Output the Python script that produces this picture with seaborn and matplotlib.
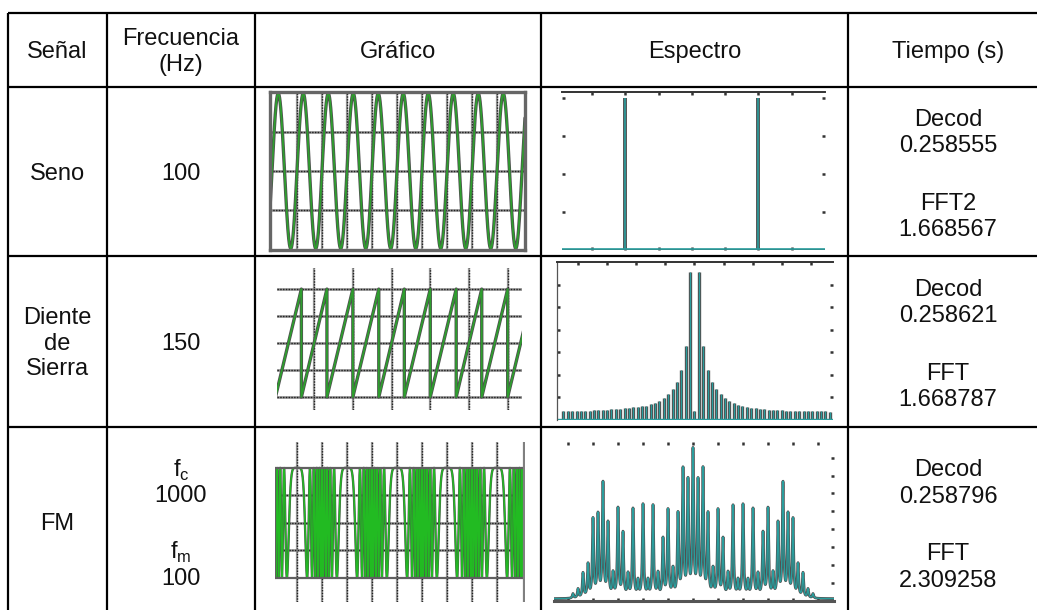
import numpy as np
import pandas as pd
import matplotlib.pyplot as plt
import seaborn as sns

# -------------------- 1. DATA --------------------
header_labels = ['Señal', 'Frecuencia\n(Hz)', 'Gráfico', 'Espectro', 'Tiempo (s)']
signal_names  = ['Seno', 'Diente\nde\nSierra', 'FM']
signal_freqs  = ['100', '150']
fm_carrier    = 1000
fm_mod        = 100
decod_times   = ['0.258555', '0.258621', '0.258796']
fft_names     = ['FFT2', 'FFT', 'FFT']
fft_times     = ['1.668567', '1.668787', '2.309258']

# sine wave (s)
sine_freq   = 100
sine_window = (-0.0008, 0.1012)

# sawtooth: start time of each ramp (s)
saw_starts = [0.0, 0.0067, 0.0133, 0.0200, 0.0267, 0.0333, 0.0400,
              0.0467, 0.0533, 0.0600, 0.0667]
saw_window = (0.0004, 0.0637)

# FM signal
fm_index  = 10
fm_window = (0.0006, 0.0506)

# spectrum of the sine (Hz, amplitude)
sine_spec_freqs = [-100, 100]
sine_spec_amps  = [1.0, 1.0]

# spectrum of the sawtooth (harmonics every 150 Hz)
saw_f0 = 150
saw_dc = 0.40
saw_harm_pos = [6.56, 3.29, 2.22, 1.67, 1.38, 1.14, 0.99, 0.84, 0.74, 0.67,
                0.62, 0.59, 0.55, 0.52, 0.50, 0.48, 0.46, 0.45, 0.44, 0.43,
                0.42, 0.41, 0.41, 0.40, 0.40, 0.39, 0.39, 0.38, 0.38, 0.38, 0.37]
saw_harm_neg = [6.56, 3.29, 2.20, 1.67, 1.38, 1.14, 0.99, 0.86, 0.77, 0.70,
                0.64, 0.61, 0.59, 0.56, 0.55, 0.52, 0.50, 0.48, 0.47, 0.46,
                0.45, 0.44, 0.43, 0.42, 0.41, 0.40, 0.40, 0.39, 0.39, 0.38]

# spectrum of the FM: sideband order -> peak amplitude
fm_orders = list(range(-24, 25))
fm_peaks = [0.25, 0.50, 1.37, 1.83, 4.33, 4.56, 6.31, 4.09, 1.28, 4.93,
            3.56, 1.24, 4.93, 0.87, 5.17, 0.87, 5.11, 1.28, 3.22, 4.83,
            1.50, 4.56, 7.02, 6.33, 8.04, 6.33, 7.02, 4.56, 1.50, 4.83,
            3.22, 1.28, 5.11, 0.87, 5.17, 0.87, 4.93, 1.24, 3.56, 4.93,
            1.28, 4.09, 6.31, 4.56, 4.33, 1.83, 1.37, 0.50, 0.25]

# -------------------- 2. FIGURE / TABLE --------------------
W, H = 1037, 610
sns.set_theme(style='white')
plt.rcParams['font.family'] = ['Liberation Sans', 'DejaVu Sans']

GRAY = '#505050'
GREEN = '#2e9e2e'
TEAL = '#2a9d9d'

fig = plt.figure(figsize=(W / 100, H / 100), dpi=100)
tab = fig.add_axes([0, 0, 1, 1])
tab.set_xlim(0, W)
tab.set_ylim(H, 0)
tab.axis('off')

col_x = [8, 107, 255, 541, 848, 1048]
row_y = [13, 87, 256, 427, 617]
tab.hlines(row_y, col_x[0], col_x[-1], color='black', lw=1.6)
tab.vlines(col_x, row_y[0], row_y[-1], color='black', lw=1.6)

col_c = [(a + b) / 2 for a, b in zip(col_x[:-1], col_x[1:])]
row_c = [(a + b) / 2 + 2 for a, b in zip(row_y[:-1], row_y[1:])]
FS = 17
txt = dict(ha='center', va='center', fontsize=FS, color='#111111', linespacing=1.18)

for cx, lab in zip(col_c, header_labels):
    tab.text(cx, row_c[0], lab, **txt)

for i, name in enumerate(signal_names):
    tab.text(col_c[0], row_c[i + 1], name, **txt)
for i, f in enumerate(signal_freqs):
    tab.text(col_c[1], row_c[i + 1], f, **txt)
fm_y = row_c[3]
tab.text(col_c[1], fm_y - 54, r'f$_{\mathregular{c}}$', **txt)
tab.text(col_c[1], fm_y - 28, str(fm_carrier), **txt)
tab.text(col_c[1], fm_y + 28, r'f$_{\mathregular{m}}$', **txt)
tab.text(col_c[1], fm_y + 55, str(fm_mod), **txt)

for i in range(3):
    cy = row_c[i + 1]
    tab.text(col_c[4], cy - 54, 'Decod', **txt)
    tab.text(col_c[4], cy - 27, decod_times[i], **txt)
    tab.text(col_c[4], cy + 30, fft_names[i], **txt)
    tab.text(col_c[4], cy + 57, fft_times[i], **txt)


def px_axes(x0, y0, x1, y1):
    ax = fig.add_axes([x0 / W, 1 - y1 / H, (x1 - x0) / W, (y1 - y0) / H])
    ax.set_facecolor('none')
    return ax


def dotted_grid(ax, xs=(), ys=()):
    for x in xs:
        ax.axvline(x, color='#9a9a9a', lw=1.6, zorder=0)
        ax.axvline(x, color='#222222', lw=1.0, ls=(0, (1, 1)), zorder=0)
    for y in ys:
        ax.axhline(y, color='#8a8a8a', lw=1.8, zorder=0)
        ax.axhline(y, color='#222222', lw=1.0, ls=(0, (1, 1)), zorder=0)


def wave(ax, df):
    sns.lineplot(data=df, x='t', y='v', ax=ax, color=GRAY, lw=2.4,
                 estimator=None, sort=False)
    sns.lineplot(data=df, x='t', y='v', ax=ax, color=GREEN, lw=1.3,
                 estimator=None, sort=False)


def clean(ax):
    ax.set_xlabel('')
    ax.set_ylabel('')
    ax.tick_params(labelleft=False, labelbottom=False, labeltop=False,
                   labelright=False)


def dot_ticks(ax, sides):
    ax.tick_params(which='both', direction='in', length=2.5, width=1.8,
                   color='#333333', left='left' in sides, right='right' in sides,
                   top='top' in sides, bottom='bottom' in sides)


# -------------------- 3. SINE --------------------
ax = px_axes(270, 92, 525, 250)
t = np.linspace(*sine_window, 1500)
wave(ax, pd.DataFrame({'t': t, 'v': np.sin(2 * np.pi * sine_freq * t)}))
ax.set_xlim(*sine_window)
ax.set_ylim(-1.02, 1.02)
dotted_grid(ax, xs=np.arange(0.01, 0.095, 0.01), ys=[-0.5, 0, 0.5])
for s in ax.spines.values():
    s.set_color('#666666')
    s.set_linewidth(2.4)
ax.set_xticks([])
ax.set_yticks([])
clean(ax)

# -------------------- 4. SAWTOOTH --------------------
ax = px_axes(277, 268, 522, 410)
xs, ys = [], []
for a, b in zip(saw_starts[:-1], saw_starts[1:]):
    xs += [a, b]
    ys += [-1, 1]
wave(ax, pd.DataFrame({'t': xs, 'v': ys}))
ax.set_xlim(*saw_window)
ax.set_ylim(-1.24, 1.39)
dotted_grid(ax, xs=np.arange(0.01, 0.065, 0.01), ys=[-1, -0.5, 0, 0.5, 1])
for s in ax.spines.values():
    s.set_visible(False)
ax.set_xticks([])
ax.set_yticks([])
clean(ax)

# -------------------- 5. FM --------------------
ax = px_axes(275, 442, 525, 602)
t = np.linspace(*fm_window, 1400)
v = np.cos(2 * np.pi * fm_carrier * t + fm_index * np.sin(2 * np.pi * fm_mod * t))
df = pd.DataFrame({'t': t, 'v': v})
sns.lineplot(data=df, x='t', y='v', ax=ax, color=GRAY, lw=1.7,
             estimator=None, sort=False)
sns.lineplot(data=df, x='t', y='v', ax=ax, color='#22bb22', lw=1.1,
             estimator=None, sort=False)
ax.set_xlim(*fm_window)
ax.set_ylim(-1.44, 1.47)
dotted_grid(ax, xs=np.arange(0.005, 0.05, 0.005), ys=[-0.5, 0, 0.5])
ax.axhline(1, color='#606060', lw=1.6)
ax.axhline(-1, color='#606060', lw=1.6)
ax.plot([fm_window[0], fm_window[0]], [-1, 1], color='#606060', lw=1.6)
ax.axvline(fm_window[1] - 0.0003, color='#808080', lw=1.6)
for s in ax.spines.values():
    s.set_visible(False)
ax.set_xticks([])
ax.set_yticks([])
clean(ax)

# -------------------- 6. SPECTRUM SINE --------------------
ax = px_axes(562, 92, 825, 250)
ax.vlines(sine_spec_freqs, 0, sine_spec_amps, color=GRAY, lw=2.8)
ax.vlines(sine_spec_freqs, 0, sine_spec_amps, color=TEAL, lw=1.2)
ax.axhline(0, color=GRAY, lw=2.2)
ax.axhline(0.004, color=TEAL, lw=1.2)
ax.set_xlim(-195, 200)
ax.set_ylim(0, 1.04)
ax.set_xticks(np.arange(-150, 151, 50))
ax.set_yticks([0.25, 0.5, 0.75, 1.0])
ax.spines['top'].set_color('#333333')
ax.spines['top'].set_linewidth(1.4)
for side in ['left', 'right', 'bottom']:
    ax.spines[side].set_visible(False)
dot_ticks(ax, ['left', 'right', 'top', 'bottom'])
clean(ax)

# -------------------- 7. SPECTRUM SAWTOOTH --------------------
ax = px_axes(557, 262, 833, 420)
pos_f = [saw_f0 * (k + 1) for k in range(len(saw_harm_pos))]
neg_f = [-saw_f0 * (k + 1) for k in range(len(saw_harm_neg))]
bar_f = neg_f[::-1] + [0] + pos_f
bar_h = saw_harm_neg[::-1] + [saw_dc] + saw_harm_pos
ax.vlines(bar_f, 0, bar_h, color=GRAY, lw=2.4)
ax.vlines(bar_f, 0, bar_h, color=TEAL, lw=0.9)
ax.axhline(0, color=GRAY, lw=2.0)
ax.axhline(0.03, color=TEAL, lw=1.0)
ax.set_xlim(-4720, 4760)
ax.set_ylim(0, 7)
ax.set_xticks(np.arange(-4000, 4001, 1000))
ax.set_yticks(np.arange(1, 7))
ax.spines['top'].set_color('#333333')
ax.spines['top'].set_linewidth(1.4)
ax.spines['left'].set_color('#555555')
ax.spines['left'].set_linewidth(0.9)
ax.spines['right'].set_visible(False)
ax.spines['bottom'].set_visible(False)
dot_ticks(ax, ['left', 'right', 'top'])
clean(ax)

# -------------------- 8. SPECTRUM FM --------------------
ax = px_axes(554, 442, 834, 601)
f = np.linspace(-2780, 2820, 4000)
gam = 15.0
curve = np.zeros_like(f)
for k, h in zip(fm_orders, fm_peaks):
    curve += h * gam ** 2 / ((f - fm_mod * k) ** 2 + gam ** 2)
df = pd.DataFrame({'f': f, 'a': curve + 0.12})
sns.lineplot(data=df, x='f', y='a', ax=ax, color=GRAY, lw=2.0,
             estimator=None, sort=False)
sns.lineplot(data=df, x='f', y='a', ax=ax, color=TEAL, lw=1.0,
             estimator=None, sort=False)
ax.set_xlim(-2780, 2820)
ax.set_ylim(0, 8.87)
ax.set_xticks(np.arange(-2500, 2501, 500))
ax.set_yticks(np.arange(1, 9))
for side in ['left', 'right', 'top']:
    ax.spines[side].set_visible(False)
ax.spines['bottom'].set_color('#555555')
ax.spines['bottom'].set_linewidth(2.2)
dot_ticks(ax, ['right', 'top', 'bottom'])
clean(ax)

fig.savefig('out.png', dpi=100)
